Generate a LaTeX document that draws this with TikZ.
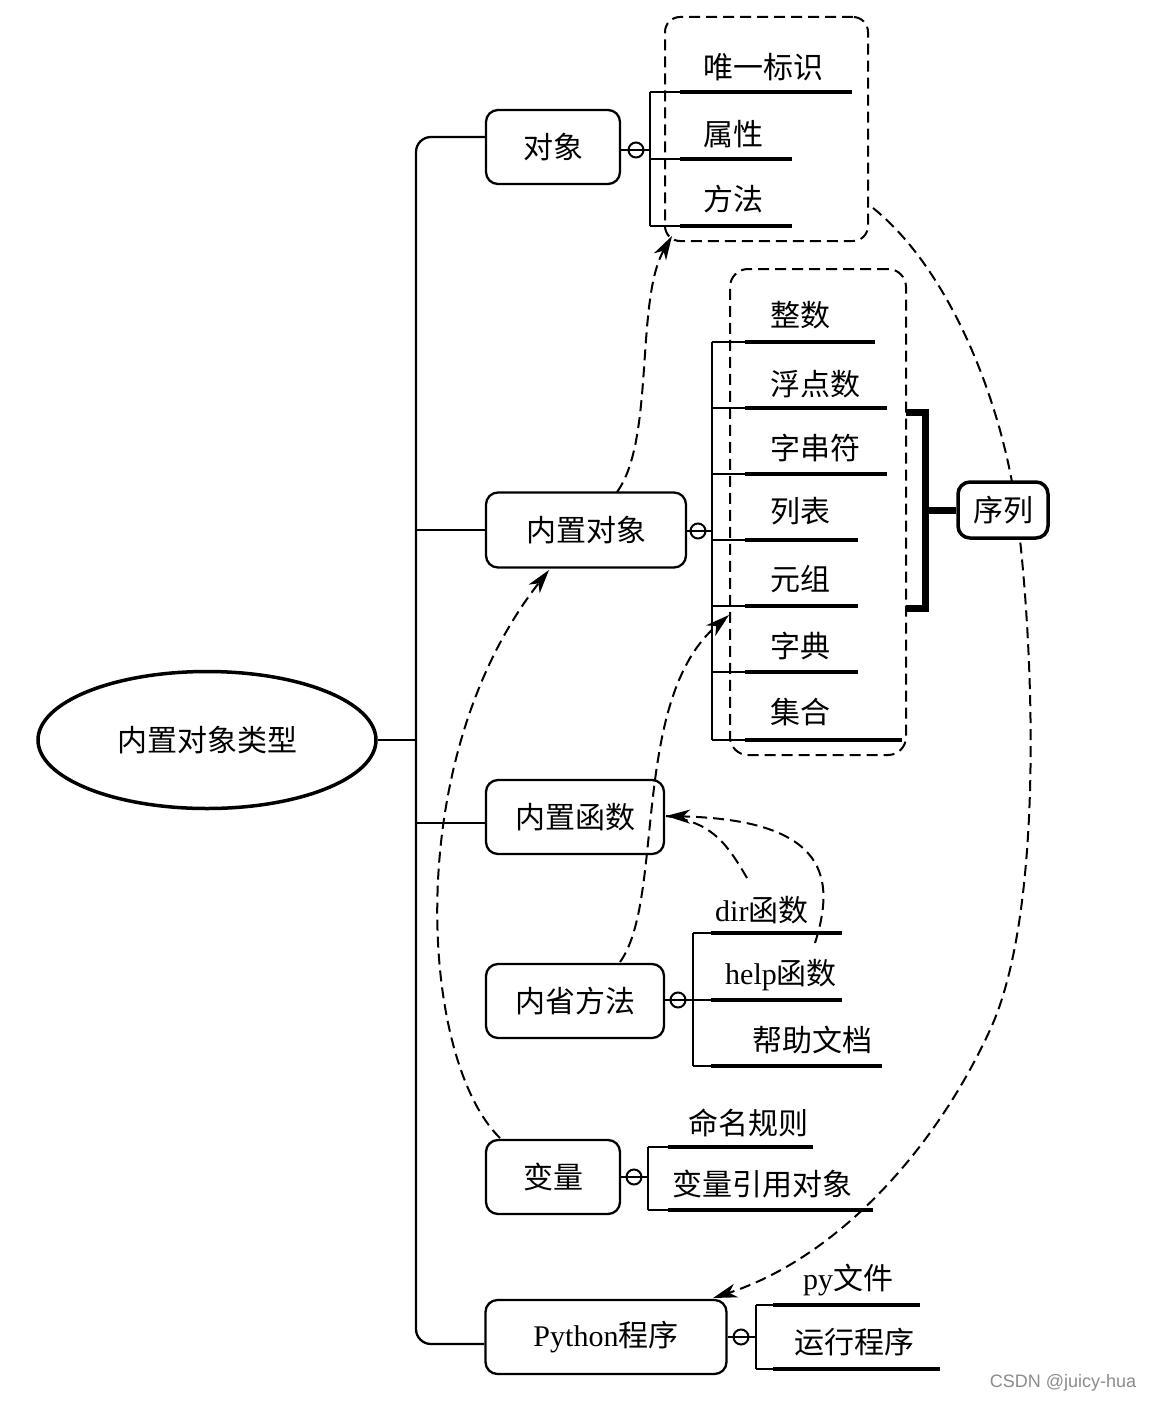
\documentclass[tikz,border=0pt]{standalone}
\usepackage{fontspec}
\setmainfont{Liberation Serif}
\newfontfamily\cjk{Noto Sans CJK SC}
\newfontfamily\wmfont{Liberation Sans}
\usetikzlibrary{shapes.geometric,arrows.meta}
\newcommand\mysubline[4]{%
  \draw[thinl] (#1,#4) -- (#2,#4);
  \draw[thickl] (#2,#4) -- (#3,#4);}
\tikzset{
  box/.style={draw, rounded corners=12pt, line width=2.3pt, inner sep=0pt, font=\cjk\fontsize{30}{36}\selectfont},
  trunkline/.style={line width=2.3pt},
  thinl/.style={line width=2.2pt},
  thickl/.style={line width=4pt},
  dl/.style={line width=2pt, dash pattern=on 11pt off 6pt},
  arr/.style={-{Stealth[length=24pt,width=14pt,inset=7pt]}},
  lab/.style={anchor=west, inner sep=0pt, font=\cjk\fontsize{30}{36}\selectfont},
  oc/.style={circle, draw, line width=2pt, minimum size=15pt, inner sep=0pt},
  grp/.style={draw, dl, inner sep=0pt},
}
\begin{document}
\begin{tikzpicture}[x=1pt,y=-1pt]
\useasboundingbox (0,0) rectangle (1152,1402);
\fill[white] (0,0) rectangle (1152,1402);

% dashed groups
\node[grp, rounded corners=15pt, minimum width=203pt, minimum height=224pt] (objgrp) at (766.5,129) {};
\node[grp, rounded corners=18pt, minimum width=176pt, minimum height=486pt] (biogrp) at (818,512) {};

% root and branch boxes
\node[ellipse, draw, line width=3.5pt, minimum width=338pt, minimum height=137pt, inner sep=0pt, font=\cjk\fontsize{30}{36}\selectfont] (root) at (207,740) {内置对象类型};
\node[box, minimum width=134pt, minimum height=74pt] (obj) at (553,147) {对象};
\node[box, minimum width=200pt, minimum height=75pt] (bio) at (586,530) {内置对象};
\node[box, minimum width=178pt, minimum height=74pt] (bif) at (575,817) {内置函数};
\node[box, minimum width=178pt, minimum height=74pt] (intro) at (575,1001) {内省方法};
\node[box, minimum width=134pt, minimum height=74pt] (var) at (553,1177) {变量};
\node[box, minimum width=241pt, minimum height=74pt] (py) at (606,1337) {{\rmfamily Python}程序};

% trunk
\coordinate (tt) at (416,137);
\coordinate (tb) at (416,1344);
\draw[trunkline, rounded corners=15pt] (obj.west |- tt) -- (tt) -- (tb) -- (py.west |- tb);
\draw[trunkline] (root.east) -- (root.east -| tt);
\draw[trunkline] (bio.west) -- (bio.west -| tt);
\draw[trunkline] ([yshift=-6pt]bif.west) -- ([yshift=-6pt]bif.west -| tt);

% 对象 subs
\node[oc] (c1) at (636,150) {};
\draw[thinl] (obj.east |- c1) -- (650,150);
\draw[thinl] (650,92) -- (650,226);
\mysubline{650}{680}{852}{92}
\mysubline{650}{680}{792}{159}
\mysubline{650}{680}{792}{226}
\node[lab] (t11) at (703,67) {唯一标识};
\node[lab] (t12) at (703,134) {属性};
\node[lab] (t13) at (703,199) {方法};

% 内置对象 subs
\node[oc] (c2) at (698,531) {};
\draw[thinl] (bio.east |- c2) -- (712,531);
\draw[thinl] (712,342) -- (712,740);
\mysubline{712}{745}{875}{342}
\mysubline{712}{745}{887}{408}
\mysubline{712}{745}{887}{474}
\mysubline{712}{745}{858}{540}
\mysubline{712}{745}{858}{606}
\mysubline{712}{745}{858}{672}
\mysubline{712}{745}{902}{740}
\node[lab] (t21) at (770,315) {整数};
\node[lab] (t22) at (770,384) {浮点数};
\node[lab] (t23) at (770,448) {字串符};
\node[lab] (t24) at (770,511) {列表};
\node[lab] (t25) at (770,579) {元组};
\node[lab] (t26) at (770,646) {字典};
\node[lab] (t27) at (770,712) {集合};

% 内省方法 subs
\node[oc] (c3) at (678,1000) {};
\draw[thinl] (intro.east |- c3) -- (693,1000);
\draw[thinl] (693,933) -- (693,1066);
\mysubline{693}{711}{842}{933}
\mysubline{693}{711}{842}{1000}
\mysubline{693}{711}{882}{1066}
\node[lab] (t31) at (715,910) {{\rmfamily dir}函数};
\node[lab] (t32) at (725,975) {{\rmfamily help}函数};
\node[lab] (t33) at (752,1040) {帮助文档};

% 变量 subs
\node[oc] (c4) at (634,1177) {};
\draw[thinl] (var.east |- c4) -- (648,1177);
\draw[thinl] (648,1147) -- (648,1210);
\mysubline{648}{668}{813}{1147}
\mysubline{648}{668}{873}{1210}
\node[lab] (t41) at (688,1123) {命名规则};
\node[lab] (t42) at (672,1184) {变量引用对象};

% Python subs
\node[oc] (c5) at (741,1337) {};
\draw[thinl] (py.east |- c5) -- (756,1337);
\draw[thinl] (756,1305) -- (756,1369);
\mysubline{756}{773}{920}{1305}
\mysubline{756}{773}{940}{1369}
\node[lab] (t51) at (803,1280) {{\rmfamily py}文件};
\node[lab] (t52) at (794,1342) {运行程序};

% dashed connectors
\coordinate (a1s) at (617,492);
\coordinate (a1e) at (672,236);
\draw[dl, arr] (a1s) .. controls (655,440) and (635,300) .. (a1e);

\coordinate (a2s) at (500,1138);
\coordinate (a2e) at (549,570);
\draw[dl, arr] (a2s) .. controls (420,1060) and (400,760) .. (a2e);

\coordinate (a3s) at (620,962);
\coordinate (a3e) at (729,615);
\draw[dl, arr] (a3s) .. controls (665,900) and (630,700) .. (a3e);

\coordinate (a4s) at (815,943);
\coordinate (a4b) at (747,878);
\coordinate (a4e) at (666,816);
\draw[dl, arr] (a4s) .. controls (835,880) and (830,820) .. (a4e);
\draw[dl] (a4b) .. controls (725,840) and (710,822) .. (a4e);

\coordinate (a5s) at (873,208);
\coordinate (a5e) at (713,1298);
\draw[dl, arr] (a5s) .. controls (950,270) and (1000,400) .. (1015,500)
   .. controls (1030,600) and (1050,900) .. (990,1030)
   .. controls (930,1160) and (830,1260) .. (a5e);

% 序列 bracket and box
\draw[line width=7pt, line join=miter] (906,412) -- (925,412) -- (925,608) -- (906,608);
\node[box, line width=3.5pt, fill=white, minimum width=90pt, minimum height=56pt] (seq) at (1003,510) {序列};
\draw[line width=7pt] (925,510) -- (seq.west);

% watermark
\node[font=\wmfont\fontsize{18}{20}\selectfont, text=black!45, inner sep=0pt] (wm) at (1063,1383) {CSDN @juicy-hua};
\end{tikzpicture}
\end{document}
